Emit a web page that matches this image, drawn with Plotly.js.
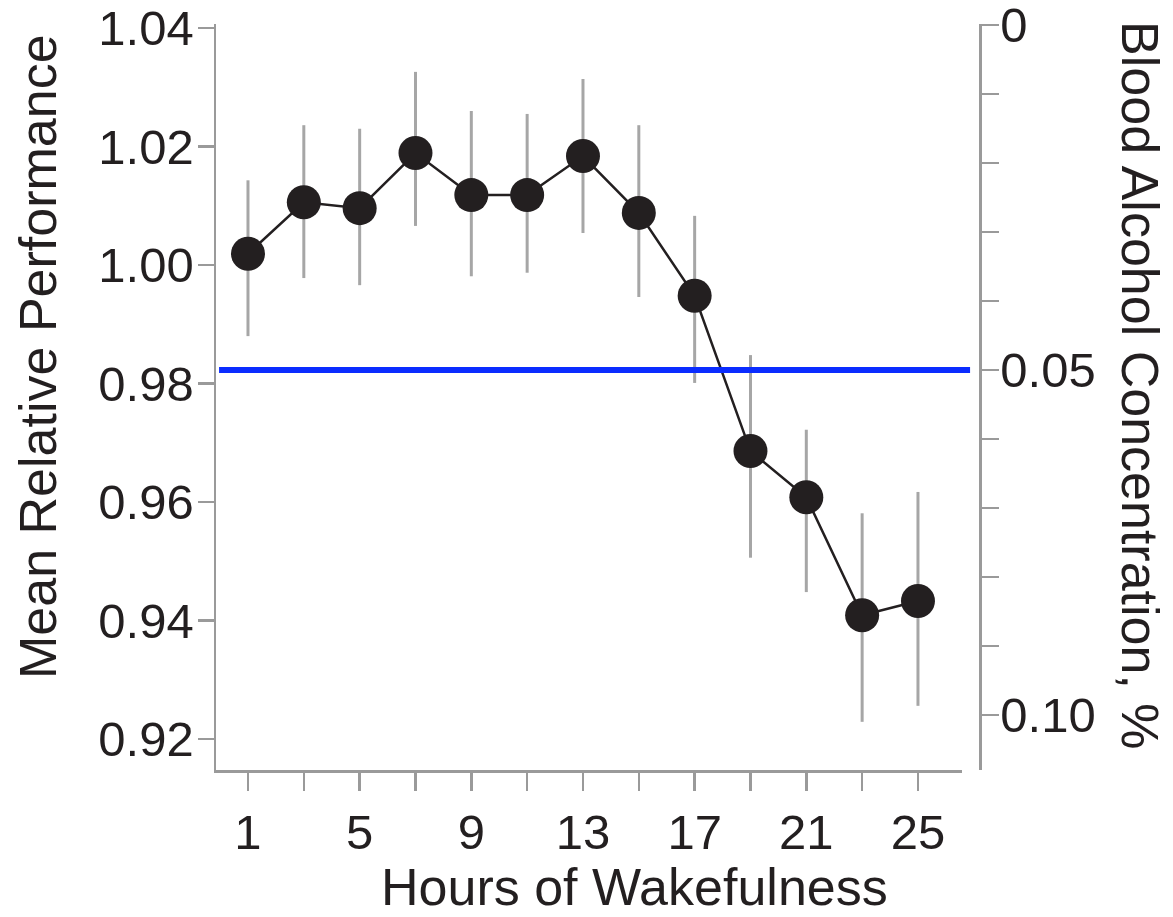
<!DOCTYPE html>
<html>
<head>
<meta charset="utf-8">
<script src="https://cdn.plot.ly/plotly-3.0.1.min.js"></script>
<style>html,body{margin:0;padding:0;background:#fff;}#chart{width:1173px;height:917px;}</style>
</head>
<body>
<div id="chart"></div>
<script>
const hours = [1, 3, 5, 7, 9, 11, 13, 15, 17, 19, 21, 23, 25];
const meanPerformance = [1.0019, 1.0106, 1.0096, 1.0189, 1.0118, 1.0118, 1.0184, 1.0088, 0.9948, 0.9686, 0.9608, 0.9409, 0.9433];
const errorUpper = [1.0143, 1.0236, 1.0230, 1.0326, 1.0260, 1.0255, 1.0314, 1.0236, 1.0083, 0.9848, 0.9722, 0.9581, 0.9617];
const errorLower = [0.9880, 0.9978, 0.9966, 1.0066, 0.9981, 0.9987, 1.0054, 0.9946, 0.9801, 0.9506, 0.9448, 0.9229, 0.9256];
const xTickVals = [1, 3, 5, 7, 9, 11, 13, 15, 17, 19, 21, 23, 25];
const xTickText = ['1', '', '5', '', '9', '', '13', '', '17', '', '21', '', '25'];
const leftTickVals = [0.92, 0.94, 0.96, 0.98, 1.00, 1.02, 1.04];
const leftTickText = ['0.92', '0.94', '0.96', '0.98', '1.00', '1.02', '1.04'];
const bacTickVals = [0, 0.01, 0.02, 0.03, 0.04, 0.05, 0.06, 0.07, 0.08, 0.09, 0.10];
const bacTickText = ['0', '', '', '', '', '0.05', '', '', '', '', '0.10'];
const bacThreshold = 0.05;

const txt = '#231f20';
const axisGray = '#9a9a9a';
const font = 'Liberation Sans, Arial, Helvetica, sans-serif';

const errTrace = {
  x: hours, y: meanPerformance, type: 'scatter', mode: 'markers',
  marker: {size: 1, opacity: 0},
  error_y: {
    type: 'data', symmetric: false,
    array: errorUpper.map((u, i) => u - meanPerformance[i]),
    arrayminus: errorLower.map((l, i) => meanPerformance[i] - l),
    color: '#a6a6a6', thickness: 3, width: 0
  },
  hoverinfo: 'skip', showlegend: false
};
const mainTrace = {
  x: hours, y: meanPerformance, type: 'scatter', mode: 'lines+markers',
  line: {color: '#231f20', width: 2.5},
  marker: {size: 34, color: '#231f20'},
  showlegend: false
};
const bacTrace = {
  x: [], y: [], yaxis: 'y2', type: 'scatter', mode: 'markers', showlegend: false
};

const layout = {
  width: 1173, height: 917,
  margin: {l: 216, r: 193, t: 24, b: 147},
  paper_bgcolor: '#fff', plot_bgcolor: 'rgba(0,0,0,0)',
  font: {family: font, color: txt, size: 49},
  showlegend: false,
  xaxis: {
    domain: [0, 0.9764], range: [-0.146, 26.576],
    showgrid: false, zeroline: false,
    showline: true, linecolor: axisGray, linewidth: 2.5,
    ticks: 'outside', ticklen: 18, tickwidth: 2.5, tickcolor: axisGray,
    tickmode: 'array', tickvals: xTickVals, ticktext: xTickText,
    tickfont: {size: 49, color: txt, family: font}
  },
  yaxis: {
    range: [0.91477, 1.04068],
    showgrid: false, zeroline: false,
    showline: true, linecolor: axisGray, linewidth: 2.5,
    ticks: 'outside', ticklen: 16, tickwidth: 2.5, tickcolor: axisGray,
    ticklabelstandoff: -6,
    tickmode: 'array', tickvals: leftTickVals, ticktext: leftTickText,
    tickfont: {size: 49, color: txt, family: font}
  },
  yaxis2: {
    overlaying: 'y', side: 'right', anchor: 'free', position: 1,
    range: [0.10797, -0.000145],
    showgrid: false, zeroline: false,
    showline: true, linecolor: axisGray, linewidth: 2.5,
    ticks: 'outside', ticklen: 17, tickwidth: 2.5, tickcolor: axisGray,
    ticklabelstandoff: -8, ticklabeloverflow: 'allow',
    tickmode: 'array', tickvals: bacTickVals, ticktext: bacTickText,
    tickfont: {size: 49, color: txt, family: font}
  },
  shapes: [{
    type: 'line', xref: 'paper', yref: 'y2',
    x0: 0.004, x1: 0.987, y0: bacThreshold, y1: bacThreshold,
    line: {color: '#0a2cff', width: 6}
  }],
  annotations: [
    {text: 'Hours of Wakefulness', xref: 'paper', yref: 'paper', x: 0.548, y: -0.157,
     xanchor: 'center', yanchor: 'middle', showarrow: false, font: {size: 52, color: txt, family: font}},
    {text: 'Mean Relative Performance', xref: 'paper', yref: 'paper', x: -0.233, y: 0.555,
     textangle: -90, xanchor: 'center', yanchor: 'middle', showarrow: false, font: {size: 52, color: txt, family: font}},
    {text: 'Blood Alcohol Concentration, %', xref: 'paper', yref: 'paper', x: 1.2094, y: 0.516,
     textangle: 90, xanchor: 'center', yanchor: 'middle', showarrow: false, font: {size: 52, color: txt, family: font}}
  ]
};

Plotly.newPlot('chart', [errTrace, mainTrace, bacTrace], layout, {displayModeBar: false, staticPlot: true});
</script>
</body>
</html>
